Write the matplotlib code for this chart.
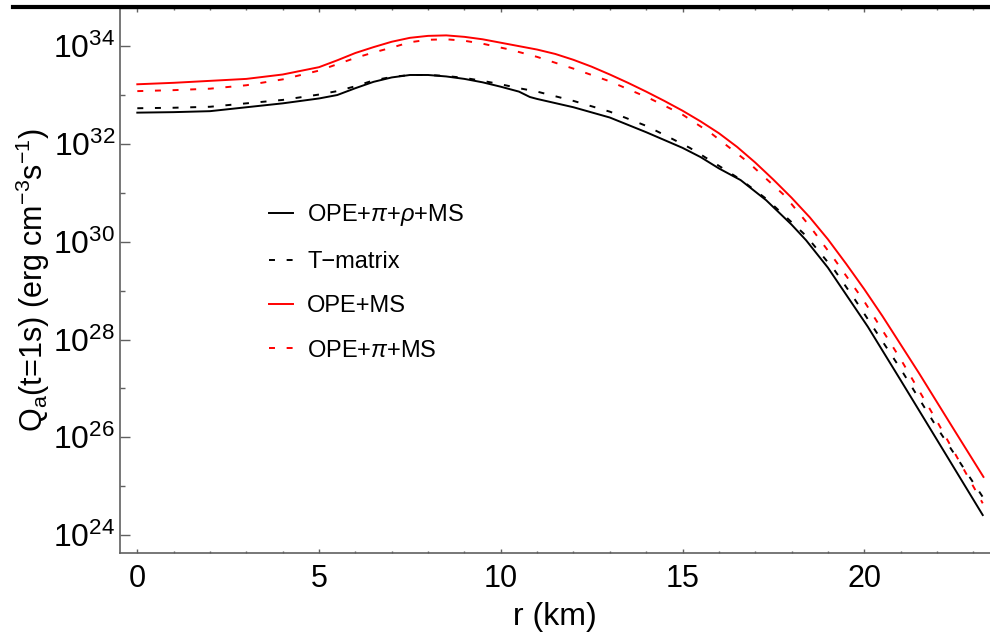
import numpy as np
import matplotlib
matplotlib.use('Agg')
import matplotlib.pyplot as plt
from matplotlib.lines import Line2D

plt.rcParams['font.family'] = ['Liberation Sans', 'DejaVu Sans']
plt.rcParams['mathtext.fontset'] = 'custom'
plt.rcParams['mathtext.rm'] = 'Liberation Sans'
plt.rcParams['mathtext.it'] = 'Liberation Sans:italic'
plt.rcParams['lines.scale_dashes'] = False

# log10(Q_a), r in km
r_opr = [0, 1, 2, 3, 4, 5, 5.5, 6, 6.5, 7, 7.5, 8, 8.5, 9, 9.5, 10, 10.5, 10.8, 11, 12, 13, 14,
         14.5, 15, 15.5, 16, 16.6, 17.3, 18, 18.4, 19, 19.6, 20.1, 21, 22, 23.26]
q_opr = [32.64, 32.65, 32.67, 32.75, 32.83, 32.93, 33.0, 33.14, 33.27, 33.36, 33.41, 33.41, 33.38,
         33.33, 33.26, 33.17, 33.07, 32.96, 32.92, 32.75, 32.54, 32.24, 32.08, 31.92, 31.73, 31.5,
         31.26, 30.85, 30.35, 30.03, 29.47, 28.81, 28.26, 27.17, 25.95, 24.41]

r_tm = [0, 1, 2, 3, 4, 5, 5.5, 6, 6.5, 7, 7.5, 8, 8.5, 9, 9.5, 10, 10.5, 11, 12, 13, 14, 14.7,
        15.2, 15.9, 16.6, 17.3, 18, 18.4, 19.2, 19.75, 21, 22, 23.26]
q_tm = [32.73, 32.74, 32.76, 32.83, 32.9, 33.01, 33.08, 33.18, 33.3, 33.37, 33.41, 33.41, 33.39,
        33.35, 33.29, 33.22, 33.14, 33.07, 32.88, 32.66, 32.37, 32.11, 31.92, 31.6, 31.27, 30.88,
        30.4, 30.12, 29.4, 28.81, 27.4, 26.2, 24.78]

r_ope = [0, 1, 2, 3, 4, 5, 5.5, 6, 6.5, 7, 7.5, 8, 8.5, 9, 9.5, 10, 10.5, 11, 11.5, 12, 12.5,
         13, 13.5, 14, 14.5, 15, 15.5, 16, 16.5, 17, 17.5, 18, 18.5, 19, 19.5, 20, 20.5, 21,
         21.5, 22, 22.5, 23.28]
q_ope = [33.22, 33.25, 33.29, 33.33, 33.42, 33.57, 33.71, 33.86, 33.98, 34.09, 34.17, 34.21, 34.22,
         34.19, 34.14, 34.07, 34.0, 33.93, 33.84, 33.72, 33.58, 33.42, 33.25, 33.07, 32.88, 32.68,
         32.46, 32.22, 31.94, 31.62, 31.27, 30.9, 30.5, 30.05, 29.55, 29.03, 28.48, 27.9,
         27.32, 26.72, 26.12, 25.19]

r_opi = [0, 1, 2, 3, 4, 5, 5.5, 6, 6.5, 7, 7.5, 8, 8.5, 9, 9.5, 10.25, 11, 12, 13, 14.1, 15,
         15.8, 16.8, 17.8, 18.5, 19.2, 20, 21, 22, 23.26]
q_opi = [33.08, 33.1, 33.13, 33.2, 33.32, 33.5, 33.63, 33.76, 33.87, 33.97, 34.08, 34.13, 34.14,
         34.11, 34.05, 33.93, 33.78, 33.54, 33.28, 32.93, 32.6, 32.21, 31.63, 30.95, 30.32, 29.62,
         28.78, 27.6, 26.33, 24.65]

ymajor = [24, 26, 28, 30, 32, 34]
yminor = [25, 27, 29, 31, 33]

fig = plt.figure(figsize=(9.9, 6.33), dpi=100)
ax = fig.add_axes([119.5 / 990, 1 - 552.7 / 633, 1 - 119.5 / 990, (552.7 - 8) / 633])

dash = (0, (4.3, 8.4))
ax.plot(r_opr, 10.0 ** np.array(q_opr), color='black', lw=1.4, label=r'OPE+$\pi$+$\rho$+MS')
ax.plot(r_tm, 10.0 ** np.array(q_tm), color='black', lw=1.4, ls=dash, label='T\u2212matrix')
ax.plot(r_ope, 10.0 ** np.array(q_ope), color='red', lw=1.4, label='OPE+MS')
ax.plot(r_opi, 10.0 ** np.array(q_opi), color='red', lw=1.4, ls=dash, label=r'OPE+$\pi$+MS')

ax.set_yscale('log')
ax.set_xlim(-0.49, 23.46)
ax.set_ylim(10 ** 23.64, 10 ** 34.78)

ax.set_yticks([10.0 ** p for p in ymajor],
              [r'$\mathregular{10^{%d}}$' % p for p in ymajor])
ax.set_yticks([10.0 ** p for p in yminor], minor=True)
ax.yaxis.set_minor_formatter(matplotlib.ticker.NullFormatter())
ax.set_xticks([0, 5, 10, 15, 20])
ax.set_xticks(np.arange(0, 24), minor=True)

gray = '#606060'
for s in ['left', 'bottom']:
    ax.spines[s].set_color(gray)
    ax.spines[s].set_linewidth(1.2)
ax.spines['right'].set_visible(False)
ax.spines['top'].set_color(gray)
ax.spines['top'].set_linewidth(1.0)

ax.tick_params(axis='x', which='major', direction='in', length=3, width=1, color=gray,
               labelsize=22, pad=8, top=True)
ax.tick_params(axis='x', which='minor', direction='in', length=1.6, width=1, color=gray, top=True)
ax.tick_params(axis='y', which='major', direction='in', length=7, width=1, color=gray,
               labelsize=23, pad=3, right=False)
ax.tick_params(axis='y', which='minor', direction='in', length=3.4, width=1, color=gray, right=False)

ax.set_xlabel('r (km)', fontsize=23, labelpad=6)
ax.set_ylabel(r'Q$_\mathregular{a}$(t=1s) (erg cm$^\mathregular{-3}$s$^\mathregular{-1}$)', fontsize=22)
ax.yaxis.set_label_coords(-0.099, 0.5)
ax.yaxis.label.set_verticalalignment('center')

ax.legend(loc='upper left', bbox_to_anchor=(0.1717, 0.643), frameon=False, fontsize=17,
          handlelength=1.0, handletextpad=0.62, labelspacing=0.95, borderpad=0, borderaxespad=0)

# thick black rule along the top edge
fig.add_artist(Line2D([13 / 990, 1], [1 - 7 / 633, 1 - 7 / 633], color='black', lw=3,
                      transform=fig.transFigure))

fig.savefig('out.png', dpi=100)
